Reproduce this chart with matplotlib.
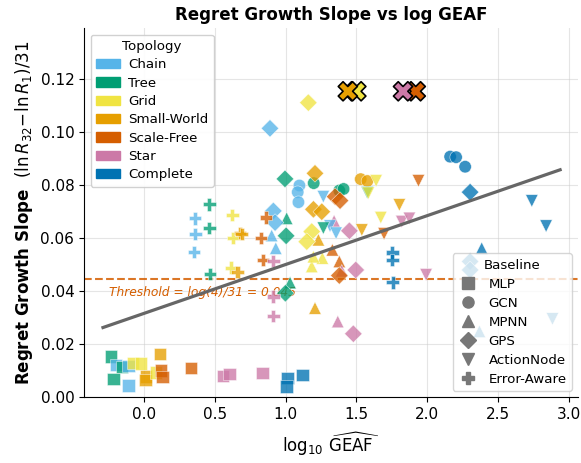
import numpy as np
import matplotlib.pyplot as plt
from matplotlib.patches import Patch
from matplotlib.lines import Line2D

topologies = ["Chain", "Tree", "Grid", "Small-World", "Scale-Free", "Star", "Complete"]
topo_colors = ["#56B4E9", "#009E73", "#F0E442", "#E69F00", "#D55E00", "#CC79A7", "#0072B2"]

baselines = ["MLP", "GCN", "MPNN", "GPS", "ActionNode", "Error-Aware"]
baseline_markers = ["s", "o", "^", "D", "v", "P"]

# log10 GEAF, slope, topology index
mlp_x = [-0.235, -0.198, -0.155, -0.11, -0.076, -0.02, -0.217, -0.11, 0.012, 0.01,
         0.083, 0.113, 0.12, 0.13, 0.332, 0.556, 0.603, 0.836, 1.013, 1.006, 1.119]
mlp_y = [0.0153, 0.0122, 0.0113, 0.0118, 0.0128, 0.0126, 0.0068, 0.0043, 0.0078, 0.0065,
         0.0093, 0.0163, 0.0100, 0.0075, 0.0109, 0.0080, 0.0088, 0.0090, 0.0072, 0.0040, 0.0083]
mlp_t = [1, 0, 1, 0, 2, 2, 1, 0, 3, 3, 2, 3, 4, 4, 4, 5, 5, 5, 6, 6, 6]

gcn_x = [1.098, 1.086, 1.091, 1.199, 1.38, 1.41, 1.531, 1.578, 2.163, 2.205, 2.269]
gcn_y = [0.0799, 0.0774, 0.0736, 0.0808, 0.0780, 0.0786, 0.0823, 0.0816, 0.0908, 0.0906, 0.0870]
gcn_t = [0, 0, 0, 1, 1, 1, 3, 3, 6, 6, 6]

mpnn_x = [0.902, 0.931, 1.008, 1.032, 1.185, 1.26, 1.197, 1.232, 1.208, 1.331,
          1.38, 1.343, 1.369, 1.397, 2.386, 2.37]
mpnn_y = [0.0610, 0.0562, 0.0675, 0.0432, 0.0493, 0.0525, 0.0530, 0.0594, 0.0336, 0.0556,
          0.0512, 0.0665, 0.0285, 0.0477, 0.0562, 0.0248]
mpnn_t = [0, 0, 1, 1, 2, 2, 2, 3, 3, 4, 4, 5, 5, 5, 6, 6]

gps_x = [0.890, 0.914, 0.926, 0.996, 1.004, 0.999, 1.161, 1.185, 1.15, 1.208,
         1.197, 1.256, 1.35, 1.385, 1.38, 1.451, 1.496, 1.479, 2.304, 2.304, 2.304]
gps_y = [0.1015, 0.0703, 0.0659, 0.0824, 0.0609, 0.0392, 0.1112, 0.0625, 0.0587, 0.0845,
         0.0709, 0.0700, 0.0757, 0.0742, 0.0459, 0.0628, 0.0480, 0.0239, 0.0774, 0.0512, 0.0480]
gps_t = [0, 0, 0, 1, 1, 1, 2, 2, 2, 3, 3, 3, 4, 4, 4, 5, 5, 5, 6, 6, 6]

an_x = [1.267, 1.314, 1.357, 1.267, 1.578, 1.640, 1.585, 1.673, 1.539, 1.804,
        1.696, 1.939, 1.821, 1.875, 1.993, 2.74, 2.841, 2.886]
an_y = [0.0757, 0.0646, 0.0619, 0.0638, 0.0772, 0.0817, 0.0770, 0.0678, 0.0631, 0.0726,
        0.0617, 0.0817, 0.0663, 0.0675, 0.0462, 0.0741, 0.0646, 0.0295]
an_t = [0, 0, 0, 1, 1, 2, 2, 2, 3, 3, 4, 4, 5, 5, 5, 6, 6, 6]

ea_x = [0.36, 0.363, 0.353, 0.462, 0.462, 0.466, 0.624, 0.631, 0.615, 0.678,
        0.69, 0.66, 0.86, 0.825, 0.839, 0.914, 0.914, 0.914, 1.755, 1.755, 1.757]
ea_y = [0.0675, 0.0616, 0.0547, 0.0728, 0.0638, 0.0465, 0.0688, 0.0600, 0.0489, 0.0619,
        0.0615, 0.0472, 0.0678, 0.0600, 0.0517, 0.0514, 0.0380, 0.0307, 0.0546, 0.0518, 0.0433]
ea_t = [0, 0, 0, 1, 1, 1, 2, 2, 2, 3, 3, 3, 4, 4, 4, 5, 5, 5, 6, 6, 6]

# runs flagged separately (drawn as X)
flag_x = [1.50, 1.44, 1.92, 1.83]
flag_y = [0.1155, 0.1155, 0.1155, 0.1155]
flag_t = [2, 3, 4, 5]

# linear trend
trend_slope = 0.01845
trend_intercept = 0.0316
trend_range = [-0.29, 2.94]

threshold = np.log(4) / 31

series = [(mlp_x, mlp_y, mlp_t), (gcn_x, gcn_y, gcn_t), (mpnn_x, mpnn_y, mpnn_t),
          (gps_x, gps_y, gps_t), (an_x, an_y, an_t), (ea_x, ea_y, ea_t)]

fig = plt.figure(figsize=(5.81, 4.63), dpi=100)
ax = fig.add_axes([0.1446, 0.1425, 0.8504, 0.797])

for (xs, ys, ts), m in zip(series, baseline_markers):
    cols = [topo_colors[t] for t in ts]
    ax.scatter(xs, ys, c=cols, marker=m, s=80, alpha=0.78,
               edgecolors="white", linewidths=0.4, zorder=3)

ax.scatter(flag_x, flag_y, c=[topo_colors[t] for t in flag_t], marker="X", s=190,
           edgecolors="black", linewidths=1.2, zorder=5)

tx = np.array(trend_range)
ax.plot(tx, trend_intercept + trend_slope * tx, color="#666666", lw=2.3, zorder=4)

ax.axhline(threshold, color="#D55E00", ls="--", lw=1.5, alpha=0.85, zorder=2)
ax.text(-0.245, 0.0396, "Threshold = log(4)/31 = %.3f" % threshold,
        color="#D55E00", fontsize=8.8, style="italic", va="center", zorder=2)

ax.set_xlim(-0.424, 3.067)
ax.set_ylim(0, 0.1394)
ax.set_xticks(np.arange(0, 3.01, 0.5))
ax.set_yticks(np.arange(0, 0.121, 0.02))
ax.tick_params(labelsize=11)
ax.grid(True, color="#cccccc", alpha=0.5, lw=0.8)
ax.set_axisbelow(True)
ax.spines["top"].set_visible(False)
ax.spines["right"].set_visible(False)

ax.set_xlabel(r"$\log_{10}\,\widehat{\mathrm{GEAF}}$", fontsize=12, labelpad=6)
ax.set_ylabel(r"Regret Growth Slope  $(\ln R_{32}\!-\!\ln R_1)/31$", fontsize=12,
              fontweight="bold")
ax.set_title("Regret Growth Slope vs log GEAF", fontsize=12, fontweight="bold")

topo_handles = [Patch(color=c, label=n) for n, c in zip(topologies, topo_colors)]
leg1 = ax.legend(handles=topo_handles, title="Topology", loc="upper left",
                 fontsize=9.6, title_fontsize=9.6, framealpha=0.9, labelspacing=0.4,
                 handlelength=1.8, handletextpad=0.6)
ax.add_artist(leg1)

base_handles = [Line2D([], [], ls="", marker=m, color="#777777", markersize=8, label=n)
                for n, m in zip(baselines, baseline_markers)]
ax.legend(handles=base_handles, title="Baseline", loc="lower right",
          bbox_to_anchor=(0.988, 0.016), borderaxespad=0, handlelength=1.5,
          fontsize=9.6, title_fontsize=9.6, framealpha=0.8, labelspacing=0.45)

fig.savefig("out.png", dpi=100)
